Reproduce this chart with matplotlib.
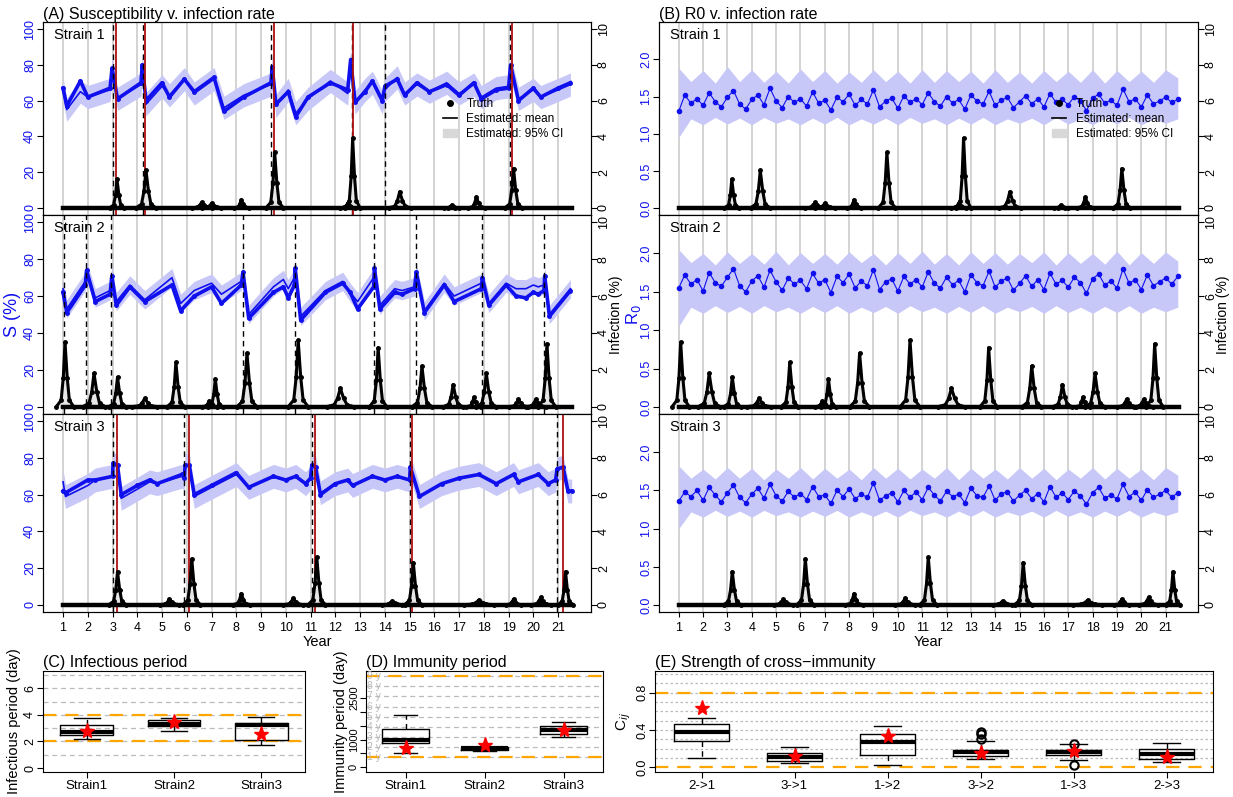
import numpy as np
import matplotlib
matplotlib.use('Agg')
import matplotlib.pyplot as plt
from matplotlib.lines import Line2D
from matplotlib.patches import Patch

plt.rcParams['font.family'] = ['Liberation Sans', 'DejaVu Sans']

W, H = 1233, 797
BLUE = '#1010ee'
BAND = '#c8c8f8'

# ---- susceptibility (year, truth, estimated mean), per strain ----
s1_year = [1.0, 1.15, 1.7, 2.0, 2.9, 2.98, 3.2, 4.15, 4.2, 4.35, 5.0, 5.3, 5.9, 6.3, 7.1, 7.5, 8.3, 9.4, 9.45, 9.6,
           10.1, 10.4, 10.9, 11.8, 12.5, 12.62, 12.8, 13.2, 13.5, 13.9, 14.0, 14.5, 14.8, 15.3, 15.8, 16.5, 17.0,
           17.6, 17.9, 18.5, 19.0, 19.08, 19.4, 20.0, 20.3, 21.0, 21.5]
s1_true = [67, 57, 71, 62, 67, 78, 61, 70, 80, 60, 70, 62, 72, 65, 73, 54, 62, 70, 79, 58,
           65, 51, 62, 70, 66, 83, 59, 65, 71, 60, 68, 72, 63, 70, 65, 69, 63,
           70, 61, 66, 67, 80, 60, 67, 62, 67, 70]
s1_est = [66, 55, 65, 62, 66, 78, 61, 69, 80, 58, 68, 63, 72, 64, 72, 56, 63, 69, 79, 57,
          66, 53, 61, 71, 64, 82, 59, 66, 70, 59, 66, 73, 64, 69, 65, 70, 64,
          69, 62, 67, 68, 79, 61, 66, 62, 66, 69]

s2_year = [1.0, 1.15, 1.9, 1.95, 2.3, 2.9, 2.97, 3.15, 3.7, 4.3, 5.4, 5.75, 6.3, 7.0, 7.4, 8.2, 8.27, 8.5, 9.5, 9.9,
           10.1, 10.35, 10.38, 10.6, 11.6, 12.3, 12.6, 12.9, 13.55, 13.58, 13.8, 14.4, 14.7, 15.2, 15.27, 15.6,
           16.4, 16.8, 17.9, 17.94, 18.2, 18.9, 19.3, 19.7, 20.0, 20.2, 20.43, 20.46, 20.65, 21.5]
s2_true = [62, 51, 66, 74, 57, 61, 71, 55, 65, 57, 66, 52, 60, 65, 56, 66, 73, 48, 62, 65,
           59, 66, 75, 47, 62, 67, 62, 53, 65, 75, 53, 62, 61, 64, 73, 51,
           66, 57, 64, 70, 55, 66, 60, 59, 62, 61, 63, 71, 49, 63]
s2_est = [64, 53, 68, 74, 59, 63, 71, 57, 66, 58, 70, 56, 63, 67, 61, 68, 73, 50, 65, 69,
          64, 70, 75, 49, 63, 68, 62, 57, 70, 75, 55, 64, 63, 65, 73, 52,
          67, 60, 67, 70, 56, 67, 64, 64, 66, 65, 66, 71, 50, 64]

s3_year = [1.0, 1.1, 2.0, 2.3, 3.0, 3.02, 3.2, 3.35, 4.0, 4.5, 4.8, 5.8, 5.9, 5.93, 6.1, 6.3, 7.0, 8.0, 8.5, 9.5,
           10.0, 10.4, 10.8, 11.0, 11.05, 11.2, 11.4, 12.0, 12.5, 12.7, 13.5, 14.0, 14.5, 15.0, 15.03, 15.4,
           16.3, 17.0, 17.8, 18.5, 19.2, 19.4, 20.2, 20.6, 20.9, 20.96, 21.2, 21.4, 21.55]
s3_true = [62, 61, 68, 68, 70, 77, 76, 60, 65, 68, 66, 71, 69, 76, 76, 60, 65, 72, 64, 70,
           68, 70, 66, 69, 76, 75, 60, 66, 68, 65, 70, 68, 70, 68, 75, 59,
           66, 69, 71, 66, 71, 67, 71, 66, 68, 74, 75, 62, 62]
s3_est = [67, 59, 65, 68, 70, 77, 75, 58, 63, 67, 66, 70, 69, 76, 76, 59, 64, 71, 64, 70,
          68, 70, 66, 69, 76, 75, 61, 66, 68, 65, 70, 68, 70, 68, 75, 59,
          66, 69, 71, 66, 71, 67, 71, 66, 68, 74, 75, 62, 62]
s_ci = [6.5, 5.0, 6.5]

# ---- infection peaks: year, height (%), half width (yr) ----
p1_year = [3.18, 4.35, 6.6, 7.0, 8.2, 9.55, 12.5, 12.7, 14.6, 16.7, 17.7, 19.2]
p1_height = [1.6, 2.1, 0.3, 0.25, 0.45, 3.1, 0.25, 3.9, 0.9, 0.15, 0.6, 2.2]
p1_width = [0.3, 0.4, 0.4, 0.4, 0.3, 0.35, 0.3, 0.3, 0.45, 0.3, 0.35, 0.35]
p2_year = [1.08, 2.25, 3.2, 4.3, 5.56, 6.9, 7.15, 8.43, 10.5, 12.2, 13.73, 15.5, 16.76, 17.6, 18.1, 19.4, 20.1, 20.55]
p2_height = [3.5, 1.8, 1.6, 0.45, 2.4, 0.3, 1.5, 2.9, 3.6, 1.0, 3.2, 2.2, 1.2, 0.5, 1.8, 0.4, 0.4, 3.4]
p2_width = [0.35, 0.45, 0.35, 0.5, 0.35, 0.3, 0.3, 0.4, 0.4, 0.55, 0.35, 0.4, 0.4, 0.3, 0.4, 0.4, 0.4, 0.35]
p3_year = [3.2, 5.3, 6.2, 8.2, 10.3, 11.25, 14.3, 15.15, 17.8, 19.2, 20.3, 21.3]
p3_height = [1.8, 0.3, 2.5, 0.6, 0.35, 2.6, 0.2, 2.3, 0.25, 0.3, 0.4, 1.8]
p3_width = [0.35, 0.4, 0.35, 0.35, 0.4, 0.35, 0.4, 0.35, 0.6, 0.3, 0.4, 0.3]

# ---- epidemic onsets: detected (dashed) and true (red) ----
det1 = [3.0, 4.22, 9.4, 12.67, 13.99, 19.05]
true1 = [3.14, 4.3, 9.52, 12.71, 19.12]
det2 = [1.04, 1.93, 2.95, 8.27, 10.37, 13.57, 15.26, 17.93, 20.43]
true2 = []
det3 = [3.01, 5.9, 11.06, 15.02, 20.95]
true3 = [3.17, 6.09, 11.18, 15.1, 21.19]

# ---- R0 truth, quarterly, per strain ----
r01 = [1.30, 1.52, 1.41, 1.47, 1.38, 1.55, 1.43, 1.36, 1.49, 1.58, 1.40, 1.33, 1.46, 1.52, 1.39, 1.61, 1.44, 1.35,
       1.50, 1.42, 1.47, 1.37, 1.56, 1.41, 1.45, 1.32, 1.49, 1.43, 1.53, 1.38, 1.46, 1.40, 1.59, 1.36, 1.44, 1.48,
       1.34, 1.51, 1.42, 1.47, 1.39, 1.55, 1.43, 1.37, 1.50, 1.41, 1.46, 1.33, 1.52, 1.44, 1.40, 1.57, 1.38, 1.45,
       1.49, 1.35, 1.43, 1.51, 1.40, 1.47, 1.36, 1.54, 1.42, 1.46, 1.39, 1.50, 1.44, 1.31, 1.48, 1.53, 1.41, 1.45,
       1.38, 1.60, 1.43, 1.47, 1.36, 1.52, 1.40, 1.44, 1.49, 1.42, 1.46]
r02 = [1.55, 1.72, 1.60, 1.66, 1.51, 1.75, 1.62, 1.57, 1.69, 1.80, 1.58, 1.50, 1.64, 1.71, 1.56, 1.78, 1.63, 1.52,
       1.68, 1.60, 1.65, 1.54, 1.74, 1.61, 1.66, 1.49, 1.70, 1.62, 1.73, 1.55, 1.64, 1.58, 1.79, 1.53, 1.63, 1.67,
       1.51, 1.70, 1.60, 1.66, 1.56, 1.76, 1.61, 1.55, 1.69, 1.59, 1.65, 1.50, 1.72, 1.62, 1.58, 1.77, 1.56, 1.64,
       1.68, 1.52, 1.61, 1.71, 1.57, 1.66, 1.53, 1.74, 1.60, 1.65, 1.56, 1.69, 1.62, 1.48, 1.67, 1.73, 1.59, 1.64,
       1.55, 1.80, 1.61, 1.66, 1.53, 1.72, 1.58, 1.63, 1.68, 1.60, 1.70]
r03 = [1.36, 1.48, 1.42, 1.50, 1.37, 1.54, 1.44, 1.35, 1.47, 1.57, 1.41, 1.34, 1.45, 1.53, 1.40, 1.58, 1.43, 1.36,
       1.49, 1.41, 1.46, 1.38, 1.55, 1.42, 1.44, 1.33, 1.50, 1.42, 1.52, 1.39, 1.45, 1.41, 1.60, 1.37, 1.43, 1.47,
       1.35, 1.50, 1.41, 1.48, 1.38, 1.54, 1.44, 1.36, 1.49, 1.42, 1.45, 1.34, 1.53, 1.43, 1.41, 1.56, 1.37, 1.46,
       1.48, 1.36, 1.44, 1.50, 1.39, 1.46, 1.35, 1.55, 1.41, 1.47, 1.38, 1.49, 1.43, 1.32, 1.47, 1.54, 1.40, 1.44,
       1.39, 1.58, 1.42, 1.48, 1.37, 1.51, 1.41, 1.45, 1.50, 1.41, 1.47]
# R0 95% CI, half-yearly (lo, hi)
r0_hi = [[1.88, 1.70, 1.85, 1.68, 1.90, 1.70, 1.86, 1.69, 1.84, 1.68, 1.87, 1.70, 1.85, 1.68, 1.83, 1.69, 1.86, 1.70,
          1.84, 1.68, 1.86, 1.69, 1.85, 1.70, 1.84, 1.68, 1.86, 1.69, 1.83, 1.68, 1.85, 1.70, 1.84, 1.69, 1.86, 1.68,
          1.85, 1.70, 1.84, 1.69, 1.86, 1.75],
         [2.05, 1.88, 2.00, 1.85, 2.02, 1.87, 2.00, 1.86, 2.03, 1.85, 2.01, 1.87, 2.00, 1.86, 2.02, 1.88, 2.00, 1.85,
          2.01, 1.87, 2.03, 1.86, 2.00, 1.85, 2.02, 1.87, 2.01, 1.86, 2.00, 1.88, 2.02, 1.85, 2.01, 1.87, 2.00, 1.86,
          2.03, 1.85, 2.01, 1.87, 2.02, 1.90],
         [1.82, 1.66, 1.78, 1.65, 1.80, 1.66, 1.79, 1.64, 1.78, 1.66, 1.80, 1.65, 1.79, 1.66, 1.78, 1.64, 1.80, 1.66,
          1.79, 1.65, 1.78, 1.66, 1.80, 1.64, 1.79, 1.66, 1.78, 1.65, 1.80, 1.66, 1.79, 1.64, 1.78, 1.66, 1.80, 1.65,
          1.79, 1.66, 1.78, 1.64, 1.80, 1.70]]
r0_lo = [[0.95, 1.20, 1.12, 1.22, 1.13, 1.21, 1.12, 1.22, 1.14, 1.20, 1.12, 1.21, 1.13, 1.22, 1.12, 1.20, 1.13, 1.21,
          1.12, 1.22, 1.14, 1.20, 1.12, 1.21, 1.13, 1.22, 1.12, 1.20, 1.14, 1.21, 1.12, 1.22, 1.13, 1.20, 1.12, 1.21,
          1.13, 1.22, 1.12, 1.20, 1.14, 1.20],
         [1.05, 1.30, 1.22, 1.32, 1.23, 1.31, 1.22, 1.32, 1.24, 1.30, 1.22, 1.31, 1.23, 1.32, 1.22, 1.30, 1.23, 1.31,
          1.22, 1.32, 1.24, 1.30, 1.22, 1.31, 1.23, 1.32, 1.22, 1.30, 1.24, 1.31, 1.22, 1.32, 1.23, 1.30, 1.22, 1.31,
          1.23, 1.32, 1.22, 1.30, 1.24, 1.30],
         [1.00, 1.22, 1.15, 1.24, 1.16, 1.23, 1.15, 1.24, 1.17, 1.22, 1.15, 1.23, 1.16, 1.24, 1.15, 1.22, 1.16, 1.23,
          1.15, 1.24, 1.17, 1.22, 1.15, 1.23, 1.16, 1.24, 1.15, 1.22, 1.17, 1.23, 1.15, 1.24, 1.16, 1.22, 1.15, 1.23,
          1.16, 1.24, 1.15, 1.22, 1.17, 1.22]]

# ---- box plots ----
inf_labels = ['Strain1', 'Strain2', 'Strain3']
inf_whislo = [2.2, 2.8, 1.75]
inf_q1 = [2.5, 3.15, 2.1]
inf_med = [2.7, 3.3, 3.2]
inf_q3 = [3.25, 3.6, 3.35]
inf_whishi = [3.8, 3.75, 3.85]
inf_truth = [2.75, 3.45, 2.55]

imm_labels = ['Strain1', 'Strain2', 'Strain3']
imm_whislo = [530, 590, 1100]
imm_q1 = [870, 620, 1200]
imm_med = [1000, 680, 1330]
imm_q3 = [1370, 730, 1500]
imm_whishi = [1900, 740, 1650]
imm_truth = [700, 800, 1350]

cx_labels = ['2->1', '3->1', '1->2', '3->2', '1->3', '2->3']
cx_whislo = [0.10, 0.05, 0.02, 0.09, 0.08, 0.06]
cx_q1 = [0.28, 0.07, 0.13, 0.12, 0.13, 0.09]
cx_med = [0.38, 0.11, 0.27, 0.16, 0.16, 0.14]
cx_q3 = [0.46, 0.155, 0.36, 0.18, 0.19, 0.20]
cx_whishi = [0.53, 0.22, 0.44, 0.28, 0.25, 0.26]
cx_fliers = [[], [], [], [0.30, 0.36, 0.38], [0.25, 0.03], []]
cx_truth = [0.63, 0.12, 0.33, 0.15, 0.17, 0.11]


def box(l, t, r, b):
    return fig.add_axes([l / W, 1 - b / H, (r - l) / W, (b - t) / H])


def style_ticks(ax, color='black', size=9):
    ax.tick_params(axis='y', labelcolor=color, labelsize=size, rotation=90, length=4, pad=1)
    for lab in ax.get_yticklabels():
        lab.set_va('center')


fig = plt.figure(figsize=(W / 100, H / 100), dpi=100)

S_data = [(s1_year, s1_true, s1_est), (s2_year, s2_true, s2_est), (s3_year, s3_true, s3_est)]
P_data = [(p1_year, p1_height, p1_width), (p2_year, p2_height, p2_width), (p3_year, p3_height, p3_width)]
V_data = [(det1, true1), (det2, true2), (det3, true3)]
R0_data = [r01, r02, r03]
rows = [(22, 215), (215, 414), (414, 612)]
years = np.arange(1, 22)
XL = (0.19, 22.33)


def draw_infection(ax2, k):
    py, ph, pw = P_data[k]
    ax2.plot([1, 21.55], [0, 0], color='black', lw=3.2, zorder=3)
    for y, h, w in zip(py, ph, pw):
        xs = [y - w, y - w * 0.45, y - w * 0.2, y, y + w * 0.25, y + w * 0.5, y + w]
        ys = [0, h * 0.1, h * 0.45, h, h * 0.45, h * 0.1, 0]
        ax2.fill_between(xs, ys, color='#e6e6e6', zorder=2)
        ax2.plot(xs, ys, color='black', lw=2.2, marker='o', ms=2.5, zorder=3)
    ax2.set_ylim(-0.4, 10.4)
    ax2.set_yticks([0, 2, 4, 6, 8, 10])


def legend(ax):
    h = [Line2D([], [], color='black', marker='o', ls='none', ms=4),
         Line2D([], [], color='black', lw=1.2),
         Patch(color='#d8d8d8')]
    ax.legend(h, ['Truth', 'Estimated: mean', 'Estimated: 95% CI'], loc='upper left',
              bbox_to_anchor=(0.71, 0.66), frameon=False, fontsize=8.5, handlelength=1.2,
              labelspacing=0.25)


for k, (t, b) in enumerate(rows):
    # ---- left: susceptibility ----
    ax = box(43, t, 591, b)
    yr, tr, es = S_data[k]
    es = np.array(es, float)
    for y in years:
        ax.axvline(y, color='#cccccc', lw=1.2, zorder=0)
    ax.fill_between(yr, es - s_ci[k], es + s_ci[k], color=BAND, lw=0, zorder=1)
    ax.plot(yr, es, color=BLUE, lw=1.2, zorder=3)
    ax.plot(yr, tr, color=BLUE, lw=2.6, marker='o', ms=2.5, zorder=3)
    for d in V_data[k][0]:
        ax.axvline(d, color='black', lw=1, ls=(0, (4, 3)), zorder=4)
    for d in V_data[k][1]:
        ax.axvline(d, color='#b01010', lw=1.3, zorder=4)
    ax.set_xlim(*XL)
    ax.set_ylim(-4, 104)
    ax.set_yticks([0, 20, 40, 60, 80, 100])
    style_ticks(ax, BLUE)
    ax.text(0.02, 0.97, 'Strain %d' % (k + 1), transform=ax.transAxes, va='top', fontsize=10.5)
    ax2 = ax.twinx()
    draw_infection(ax2, k)
    style_ticks(ax2)
    ax2.set_xlim(*XL)
    if k == 0:
        legend(ax2)
        ax.set_title('(A) Susceptibility v. infection rate', loc='left', fontsize=11.5, pad=2)
    if k == 1:
        ax.set_ylabel('S (%)', color=BLUE, fontsize=13, labelpad=2)
        ax2.set_ylabel('Infection (%)', fontsize=10)
        ax2.yaxis.set_label_coords(1.032, 0.5)
    if k == 2:
        ax.set_xticks(years)
        ax.tick_params(axis='x', labelsize=9)
        ax.set_xlabel('Year', fontsize=10.5, labelpad=1)
    else:
        ax.set_xticks([])

    # ---- right: R0 ----
    axr = box(659, t, 1198, b)
    for y in years:
        axr.axvline(y, color='#cccccc', lw=1.2, zorder=0)
    hx = 1 + 0.5 * np.arange(len(r0_hi[k]))
    axr.fill_between(hx, r0_lo[k], r0_hi[k], color=BAND, lw=0, zorder=1)
    rx = 1 + 0.25 * np.arange(len(R0_data[k]))
    axr.plot(rx, R0_data[k], color=BLUE, lw=0.8, marker='o', ms=3, zorder=3)
    axr.set_xlim(*XL)
    axr.set_ylim(-0.09, 2.5)
    axr.set_yticks([0, 0.5, 1.0, 1.5, 2.0])
    axr.set_yticklabels(['0.0', '0.5', '1.0', '1.5', '2.0'])
    style_ticks(axr, BLUE)
    axr.text(0.02, 0.97, 'Strain %d' % (k + 1), transform=axr.transAxes, va='top', fontsize=10.5)
    axr2 = axr.twinx()
    draw_infection(axr2, k)
    style_ticks(axr2)
    axr2.set_xlim(*XL)
    if k == 0:
        legend(axr2)
        axr.set_title('(B) R0 v. infection rate', loc='left', fontsize=11.5, pad=2)
    if k == 1:
        axr.set_ylabel('R$_0$', color=BLUE, fontsize=12)
        axr.yaxis.set_label_coords(-0.029, 0.5)
        axr2.set_ylabel('Infection (%)', fontsize=10)
        axr2.yaxis.set_label_coords(1.034, 0.5)
    if k == 2:
        axr.set_xticks(years)
        axr.tick_params(axis='x', labelsize=9)
        axr.set_xlabel('Year', fontsize=10.5, labelpad=1)
    else:
        axr.set_xticks([])


def boxes(ax, labels, lo, q1, med, q3, hi, truth, fliers=None):
    stats = []
    for i in range(len(labels)):
        stats.append(dict(label=labels[i], whislo=lo[i], q1=q1[i], med=med[i], q3=q3[i], whishi=hi[i],
                          fliers=fliers[i] if fliers else []))
    ax.bxp(stats, widths=0.6, showfliers=True,
           boxprops=dict(lw=1), medianprops=dict(color='black', lw=3),
           whiskerprops=dict(ls=(0, (4, 3)), lw=1), capprops=dict(lw=1), capwidths=0.3,
           flierprops=dict(marker='o', mfc='none', mec='black', ms=6, mew=1.5))
    ax.plot(range(1, len(labels) + 1), truth, ls='none', marker='*', color='red', ms=11, zorder=5)
    ax.tick_params(axis='x', labelsize=9.5, length=4, pad=2)


BT, BB = 671, 772

# (C)
axc = box(43, BT, 305, BB)
for g in range(1, 8):
    axc.axhline(g, color='#bbbbbb', lw=0.9, ls=(0, (4, 3)), zorder=0)
for g in [2, 4]:
    axc.axhline(g, color='orange', lw=1.6, ls=(0, (6, 4)), zorder=1)
boxes(axc, inf_labels, inf_whislo, inf_q1, inf_med, inf_q3, inf_whishi, inf_truth)
axc.set_ylim(-0.3, 7.3)
axc.set_yticks([0, 2, 4, 6])
style_ticks(axc)
axc.set_ylabel('Infectious period (day)', fontsize=10.5, labelpad=2)
axc.set_title('(C) Infectious period', loc='left', fontsize=11.5, pad=3)

# (D)
axd = box(366, BT, 603, BB)
for g in range(1, 10):
    axd.axhline(365 * g, color='#bbbbbb', lw=0.9, ls=(0, (4, 3)), zorder=0)
    axd.text(0.005, 365 * g, '%d y' % g, transform=axd.get_yaxis_transform(), va='center',
             fontsize=7.5, color='#bbbbbb')
for g in [365, 3285]:
    axd.axhline(g, color='orange', lw=1.6, ls=(0, (6, 4)), zorder=1)
boxes(axd, imm_labels, imm_whislo, imm_q1, imm_med, imm_q3, imm_whishi, imm_truth)
axd.set_ylim(-170, 3470)
axd.set_yticks([0, 500, 1000, 1500, 2000, 2500])
axd.set_yticklabels(['0', '', '1000', '', '', '2500'])
style_ticks(axd, size=8)
axd.set_ylabel('Immunity period (day)', fontsize=10.5, labelpad=1)
axd.set_title('(D) Immunity period', loc='left', fontsize=11.5, pad=3)

# (E)
axe = box(655, BT, 1213, BB)
for g in np.arange(0.1, 1.01, 0.1):
    axe.axhline(g, color='#bbbbbb', lw=0.9, ls=(0, (2, 2)), zorder=0)
for g in [0.0, 0.8]:
    axe.axhline(g, color='orange', lw=1.6, ls=(0, (6, 4)), zorder=1)
boxes(axe, cx_labels, cx_whislo, cx_q1, cx_med, cx_q3, cx_whishi, cx_truth, cx_fliers)
axe.set_ylim(-0.05, 1.03)
axe.set_yticks([0, 0.4, 0.8])
axe.set_yticklabels(['0.0', '0.4', '0.8'])
style_ticks(axe)
axe.set_ylabel('C$_{ij}$', fontsize=11, labelpad=2)
axe.set_title('(E) Strength of cross\u2212immunity', loc='left', fontsize=11.5, pad=3)

fig.savefig('out.png', dpi=100)
